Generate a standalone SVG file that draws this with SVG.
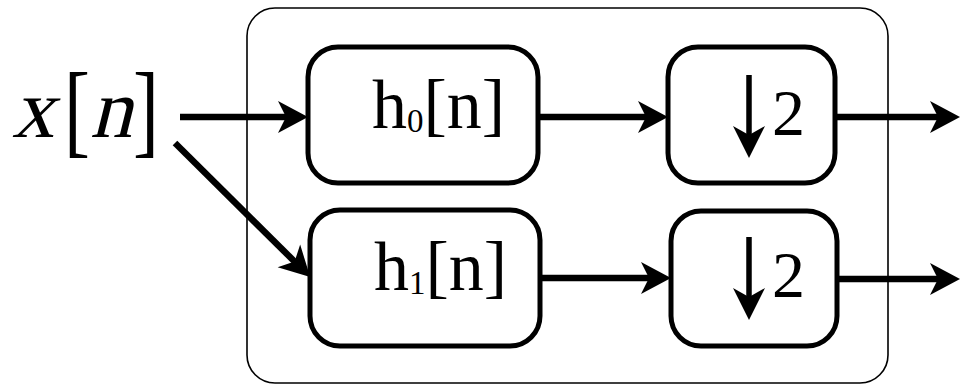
<svg xmlns="http://www.w3.org/2000/svg" width="961" height="386" viewBox="0 0 961 386">
<style>
.box{fill:#fff;stroke:#000;stroke-width:5}
.outer{fill:none;stroke:#000;stroke-width:1.6}
.conn{stroke:#000;stroke-width:6.5;fill:none}
.lbl{font-family:"Liberation Serif","Times New Roman",serif;fill:#000}
.sym{fill:#000;stroke:none}
</style>
<defs>
<marker id="ah" viewBox="-11 -17 32 34" markerWidth="32" markerHeight="34" refX="0" refY="0" orient="auto" markerUnits="userSpaceOnUse">
<path d="M20,0 L-10,-16 L-2,0 L-10,16 Z" fill="#000"/>
</marker>
</defs>
<rect id="container" class="outer" x="247" y="8" width="641" height="375" rx="28" ry="28"/>
<g id="input">
<text class="lbl" font-size="84" transform="translate(12,137) skewX(-14)">x</text>
<text class="lbl" font-size="104" transform="translate(64,144) scale(0.75,1)">[</text>
<text class="lbl" font-size="84" transform="translate(90,137) skewX(-14)">n</text>
<text class="lbl" font-size="104" transform="translate(133,144) scale(0.75,1)">]</text>
</g>
<g id="h0">
<rect class="box" x="308" y="47" width="230" height="136" rx="30" ry="30"/>
<text class="lbl" x="372" y="128" font-size="70">h<tspan font-size="33" dy="4">0</tspan><tspan dy="-4">[n]</tspan></text>
</g>
<g id="h1">
<rect class="box" x="310" y="210" width="230" height="136" rx="30" ry="30"/>
<text class="lbl" x="374" y="290" font-size="70">h<tspan font-size="33" dy="4">1</tspan><tspan dy="-4">[n]</tspan></text>
</g>
<g id="down0">
<rect class="box" x="668" y="47" width="167" height="136" rx="30" ry="30"/>
<line x1="749" y1="75" x2="749" y2="140" stroke="#000" stroke-width="5.5"/>
<path class="sym" d="M749,158 L733,126 L749,135 L765,126 Z"/>
<text class="lbl" x="772" y="135" font-size="66">2</text>
</g>
<g id="down1">
<rect class="box" x="671" y="211" width="166" height="135" rx="30" ry="30"/>
<line x1="749" y1="237" x2="749" y2="302" stroke="#000" stroke-width="5.5"/>
<path class="sym" d="M749,320 L733,288 L749,297 L765,288 Z"/>
<text class="lbl" x="772" y="297" font-size="66">2</text>
</g>
<g id="connectors">
<line class="conn" x1="180" y1="117" x2="288" y2="117" marker-end="url(#ah)"/>
<line class="conn" x1="175" y1="143" x2="296" y2="263" marker-end="url(#ah)"/>
<line class="conn" x1="538" y1="117" x2="648" y2="117" marker-end="url(#ah)"/>
<line class="conn" x1="540" y1="278" x2="651" y2="278" marker-end="url(#ah)"/>
<line class="conn" x1="835" y1="117" x2="940" y2="117" marker-end="url(#ah)"/>
<line class="conn" x1="837" y1="279" x2="940" y2="279" marker-end="url(#ah)"/>
</g>
</svg>
